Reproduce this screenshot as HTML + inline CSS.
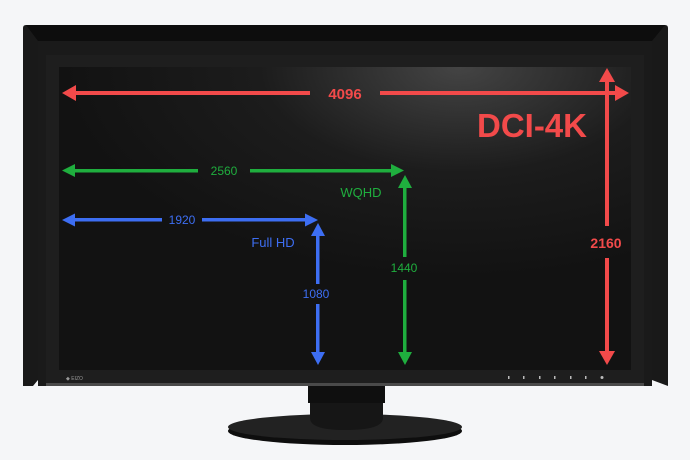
<!DOCTYPE html>
<html><head><style>
html,body{margin:0;padding:0;background:#f5f6f8;}
svg{display:block;}
text{font-family:"Liberation Sans",sans-serif;}
</style></head><body>
<svg width="690" height="460" viewBox="0 0 690 460" xmlns="http://www.w3.org/2000/svg">
<defs>
<radialGradient id="scr" cx="0.7" cy="0" r="0.7">
<stop offset="0" stop-color="#444"/><stop offset="0.5" stop-color="#1c1c1c"/><stop offset="1" stop-color="#121212"/>
</radialGradient>
</defs>
<!-- stand -->
<ellipse cx="345" cy="431" rx="117" ry="14" fill="#0e0e0e"/>
<ellipse cx="345" cy="427" rx="117" ry="13" fill="#222"/>
<path d="M310 385 L383 385 L383 418 Q383 430 345 430 Q310 430 310 418 Z" fill="#161616"/>
<rect x="308" y="385" width="77" height="18" fill="#0f0f0f"/>
<!-- hood -->
<path d="M23 28 Q23 25 26 25 L665 25 Q668 25 668 28 L668 386 L652 380 L652 41 L38 41 L38 380 L33 386 L23 386 Z" fill="#191919"/>
<path d="M26 25 L665 25 L652 41 L38 41 Z" fill="#0d0d0d"/>
<!-- bezel -->
<rect x="38" y="41" width="614" height="345" fill="#1a1a1a"/>
<rect x="46" y="55" width="598" height="330" fill="#1e1e1e"/>
<rect x="59" y="67" width="572" height="303" fill="url(#scr)"/>
<rect x="46" y="383" width="598" height="3" fill="#4a4a4a"/>
<text x="66" y="380" font-size="5" fill="#999">◆ EIZO</text>
<g fill="#bbb"><rect x="508" y="376" width="1.5" height="3"/><rect x="523" y="376" width="1.5" height="3"/><rect x="539" y="376" width="1.5" height="3"/><rect x="554" y="376" width="1.5" height="3"/><rect x="570" y="376" width="1.5" height="3"/><rect x="585" y="376" width="1.5" height="3"/><circle cx="602" cy="377.5" r="1.5"/></g>
<!-- red -->
<g fill="#f24a4a">
<rect x="72" y="91" width="238" height="4"/>
<rect x="380" y="91" width="238" height="4"/>
<polygon points="62,93 76,85 76,101"/>
<polygon points="629,93 615,85 615,101"/>
<rect x="605" y="80" width="4" height="146"/>
<rect x="605" y="258" width="4" height="98"/>
<polygon points="607,68 599,82 615,82"/>
<polygon points="607,365 599,351 615,351"/>
<text x="345" y="99" font-size="15" font-weight="bold" text-anchor="middle">4096</text>
<text x="532" y="137" font-size="33" font-weight="bold" text-anchor="middle">DCI-4K</text>
<text x="606" y="248" font-size="14" font-weight="bold" text-anchor="middle">2160</text>
</g>
<!-- green -->
<g fill="#1fae3e">
<rect x="72" y="169" width="126" height="3.5"/>
<rect x="250" y="169" width="144" height="3.5"/>
<polygon points="62,170.5 75,164 75,177"/>
<polygon points="404,170.5 391,164 391,177"/>
<rect x="403" y="185" width="3.5" height="72"/>
<rect x="403" y="280" width="3.5" height="75"/>
<polygon points="405,175 398,188 412,188"/>
<polygon points="405,365 398,352 412,352"/>
<text x="224" y="175" font-size="12" text-anchor="middle">2560</text>
<text x="361" y="197" font-size="13" text-anchor="middle">WQHD</text>
<text x="404" y="272" font-size="12" text-anchor="middle">1440</text>
</g>
<!-- blue -->
<g fill="#3d6ef2">
<rect x="72" y="218" width="90" height="3.5"/>
<rect x="202" y="218" width="106" height="3.5"/>
<polygon points="62,220 75,213.5 75,226.5"/>
<polygon points="318,220 305,213.5 305,226.5"/>
<rect x="316" y="234" width="3.5" height="50"/>
<rect x="316" y="304" width="3.5" height="50"/>
<polygon points="318,223 311,236 325,236"/>
<polygon points="318,365 311,352 325,352"/>
<text x="182" y="224" font-size="12" text-anchor="middle">1920</text>
<text x="273" y="247" font-size="13" text-anchor="middle">Full HD</text>
<text x="316" y="298" font-size="12" text-anchor="middle">1080</text>
</g>
</svg>
</body></html>
